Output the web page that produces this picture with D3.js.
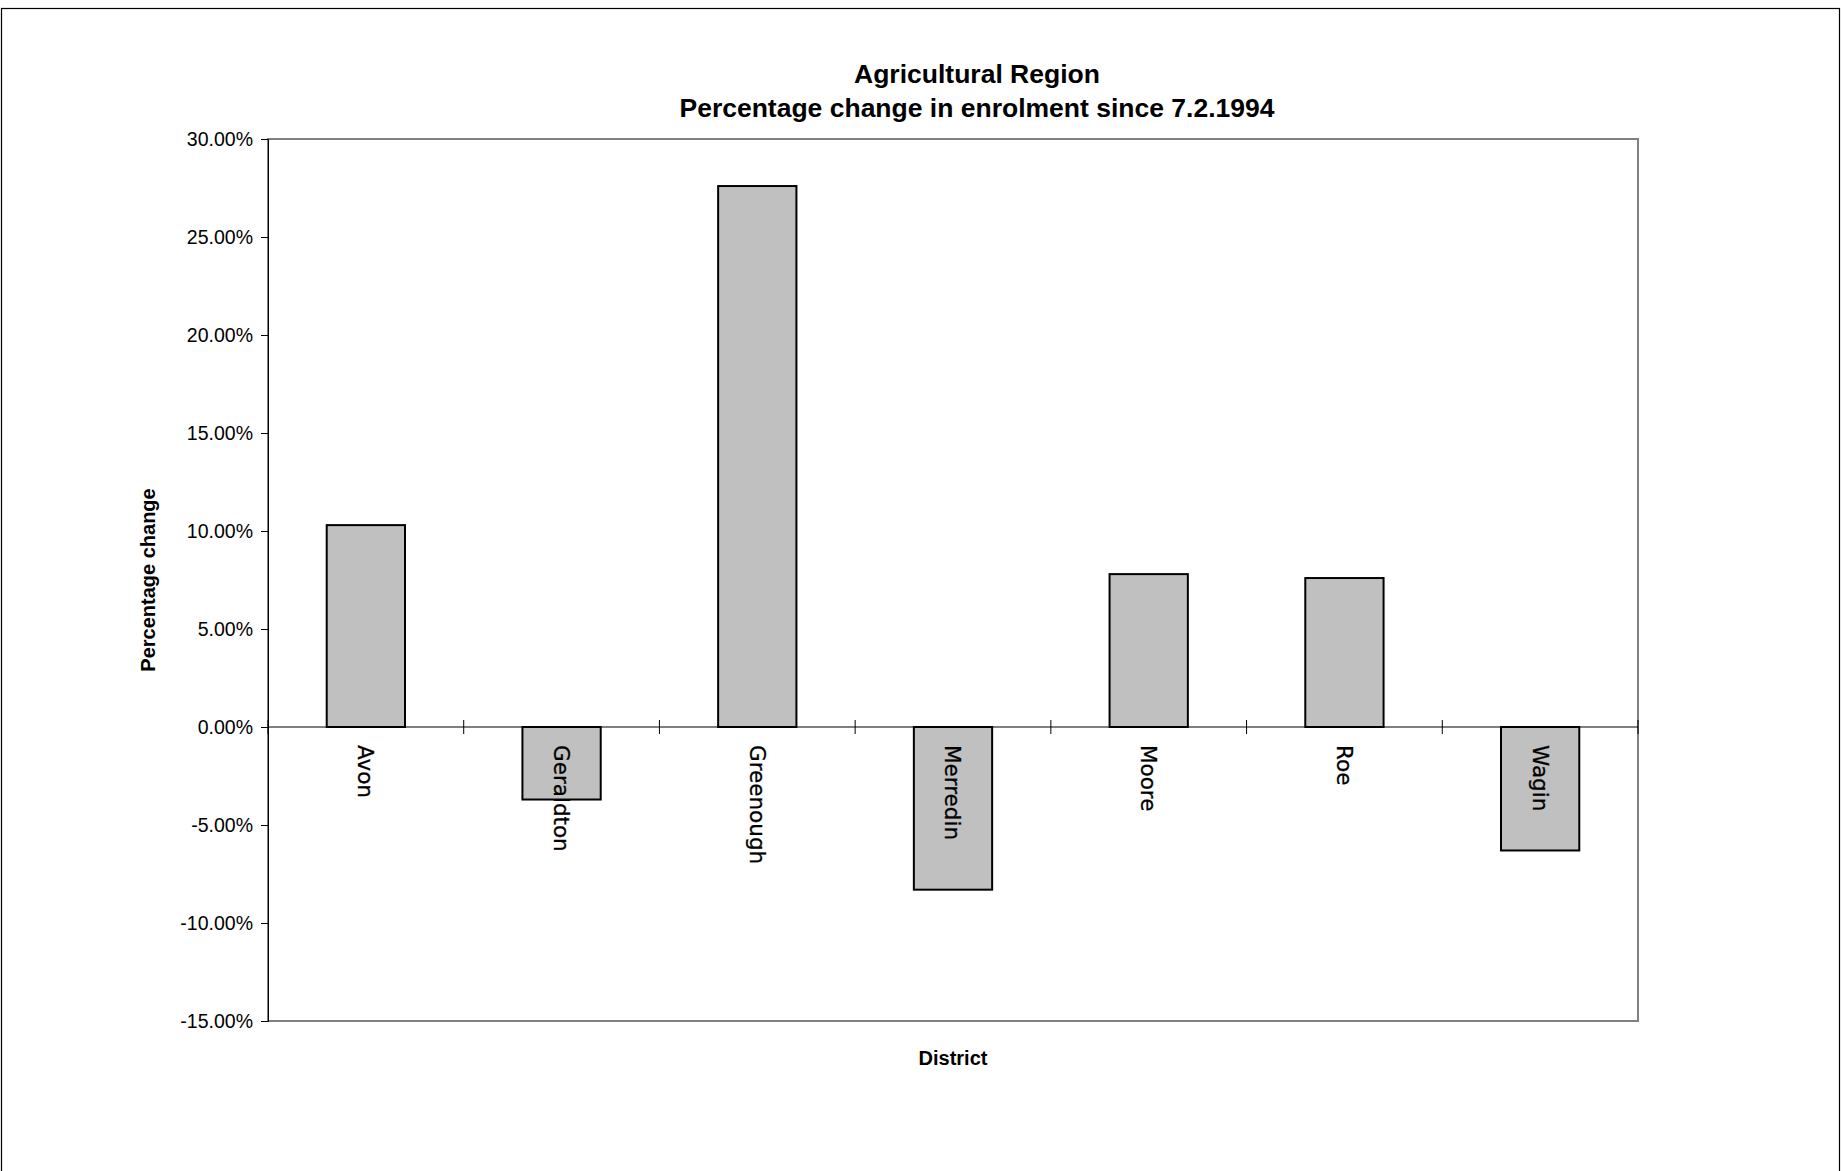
<!DOCTYPE html>
<html><head><meta charset="utf-8">
<script src="https://cdn.jsdelivr.net/npm/d3@7"></script>
<style>body{margin:0;background:#fff}svg{display:block}text{font-family:"Liberation Sans",Arial,sans-serif}</style>
</head><body><svg id="c" width="1843" height="1171"></svg>
<script>
const districts = ['Avon','Geraldton','Greenough','Merredin','Moore','Roe','Wagin'];
const changes = [0.103, -0.037, 0.276, -0.083, 0.078, 0.076, -0.063];
const yTicks = [0.30,0.25,0.20,0.15,0.10,0.05,0,-0.05,-0.10,-0.15];

const svg = d3.select('#c');
const m = {l:268, r:1638, t:139, b:1021};

svg.append('rect').attr('x',1.5).attr('y',8.5).attr('width',1838).attr('height',1170)
  .attr('fill','none').attr('stroke','#000').attr('stroke-width',1.2);

const x = d3.scaleBand().domain(districts).range([m.l,m.r]).paddingInner(0.6).paddingOuter(0.3);
const y = d3.scaleLinear().domain([-0.15,0.30]).range([m.b,m.t]);

// plot frame (grey)
svg.append('rect').attr('x',m.l).attr('y',m.t).attr('width',m.r-m.l).attr('height',m.b-m.t)
  .attr('fill','none').attr('stroke','#808080').attr('stroke-width',2);

svg.selectAll('.bar').data(districts).join('rect')
  .attr('x',d=>x(d)).attr('width',x.bandwidth())
  .attr('y',(d,i)=>y(Math.max(0,changes[i])))
  .attr('height',(d,i)=>Math.abs(y(changes[i])-y(0)))
  .attr('fill','#c0c0c0').attr('stroke','#000').attr('stroke-width',2);

// y axis
const pct = d3.format('.2%');
const ya = svg.append('g').attr('transform',`translate(${m.l},0)`)
  .call(d3.axisLeft(y).tickValues(yTicks).tickFormat(d => pct(d).replace('\u2212','-')).tickSize(7).tickPadding(8));
ya.select('.domain').attr('stroke','#000');
ya.selectAll('text').attr('font-size',19.5);

// zero axis with category ticks
const step = (m.r-m.l)/districts.length;
svg.append('line').attr('x1',m.l).attr('x2',m.r).attr('y1',y(0)).attr('y2',y(0)).attr('stroke','#000');
svg.selectAll('.xt').data(d3.range(districts.length+1)).join('line')
  .attr('x1',i=>m.l+i*step).attr('x2',i=>m.l+i*step).attr('y1',y(0)-7).attr('y2',y(0)+7).attr('stroke','#000');

svg.selectAll('.cl').data(districts).join('text')
  .attr('transform',d=>`translate(${x(d)+x.bandwidth()/2},${y(0)+18}) rotate(90)`)
  .attr('dy','0.35em').attr('font-size',21.5).attr('stroke','#000').attr('stroke-width',0.3)
  .style('font-family','"DejaVu Sans",sans-serif').text(d=>d);

svg.append('text').attr('x',977).attr('y',83).attr('text-anchor','middle')
  .attr('font-size',26.5).attr('font-weight','bold').text('Agricultural Region');
svg.append('text').attr('x',977).attr('y',117).attr('text-anchor','middle')
  .attr('font-size',26.5).attr('font-weight','bold').text('Percentage change in enrolment since 7.2.1994');
svg.append('text').attr('x',953).attr('y',1065).attr('text-anchor','middle')
  .attr('font-size',20).attr('font-weight','bold').text('District');
svg.append('text').attr('transform','translate(155,580) rotate(-90)').attr('text-anchor','middle')
  .attr('font-size',20).attr('font-weight','bold').text('Percentage change');
</script></body></html>
